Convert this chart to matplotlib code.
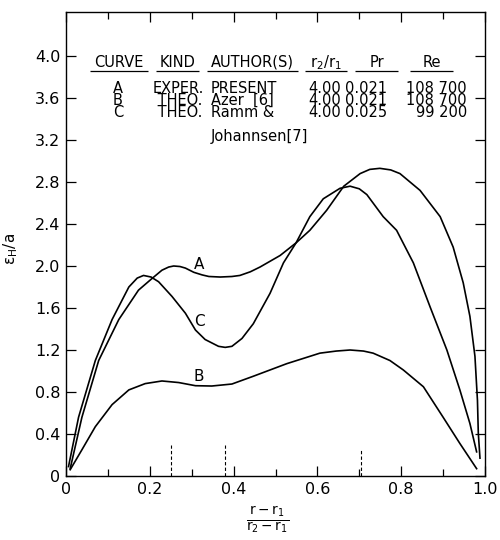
import matplotlib
matplotlib.use("Agg")
import matplotlib.pyplot as plt
from matplotlib.ticker import MultipleLocator

plt.rcParams["font.family"] = ["DejaVu Sans"]
plt.rcParams["mathtext.default"] = "regular"

# ---- curve data ----
a_x = [0.010, 0.038, 0.078, 0.126, 0.173, 0.205, 0.229, 0.245, 0.257, 0.272,
       0.285, 0.305, 0.325, 0.341, 0.368, 0.396, 0.415, 0.440, 0.463, 0.511,
       0.549, 0.582, 0.622, 0.654, 0.663, 0.702, 0.725, 0.749, 0.775, 0.797,
       0.845, 0.893, 0.924, 0.948, 0.964, 0.976, 0.982, 0.984, 0.988]
a_y = [0.07, 0.56, 1.10, 1.49, 1.77, 1.88, 1.96, 1.99, 2.00, 1.995,
       1.98, 1.94, 1.915, 1.90, 1.895, 1.90, 1.91, 1.945, 1.99, 2.10,
       2.22, 2.34, 2.53, 2.71, 2.76, 2.88, 2.92, 2.93, 2.915, 2.88,
       2.72, 2.47, 2.18, 1.84, 1.52, 1.14, 0.72, 0.41, 0.17]

b_x = [0.010, 0.038, 0.070, 0.110, 0.150, 0.189, 0.229, 0.269, 0.309, 0.348,
       0.396, 0.447, 0.527, 0.606, 0.645, 0.678, 0.710, 0.733, 0.773, 0.805,
       0.853, 0.900, 0.940, 0.980]
b_y = [0.06, 0.25, 0.47, 0.68, 0.82, 0.88, 0.905, 0.89, 0.86, 0.857,
       0.876, 0.95, 1.07, 1.17, 1.19, 1.20, 1.19, 1.17, 1.10, 1.01,
       0.85, 0.56, 0.31, 0.07]

c_x = [0.006, 0.030, 0.070, 0.110, 0.150, 0.170, 0.185, 0.203, 0.221, 0.253,
       0.285, 0.309, 0.332, 0.364, 0.380, 0.396, 0.420, 0.447, 0.487, 0.519,
       0.549, 0.582, 0.614, 0.654, 0.678, 0.700, 0.718, 0.757, 0.789, 0.829,
       0.869, 0.909, 0.940, 0.964, 0.980]
c_y = [0.09, 0.56, 1.10, 1.49, 1.80, 1.885, 1.91, 1.895, 1.85, 1.71,
       1.55, 1.39, 1.30, 1.235, 1.225, 1.235, 1.31, 1.45, 1.74, 2.03,
       2.22, 2.47, 2.64, 2.74, 2.76, 2.735, 2.68, 2.47, 2.34, 2.03,
       1.61, 1.20, 0.82, 0.50, 0.23]

curve_labels = ["A", "C", "B"]
label_x = [0.318, 0.318, 0.318]
label_y = [2.01, 1.47, 0.95]

mark_x = [0.25, 0.38, 0.705]
mark_h = [0.30, 0.30, 0.25]

x_ticks = [0.0, 0.2, 0.4, 0.6, 0.8, 1.0]
x_ticklabels = ["0", "0.2", "0.4", "0.6", "0.8", "1.0"]
y_ticks = [0.0, 0.4, 0.8, 1.2, 1.6, 2.0, 2.4, 2.8, 3.2, 3.6, 4.0]
y_ticklabels = ["0", "0.4", "0.8", "1.2", "1.6", "2.0", "2.4", "2.8",
                "3.2", "3.6", "4.0"]

# table in the upper part of the plot
tbl_header = ["CURVE", "KIND", "AUTHOR(S)", r"$r_2/r_1$", "Pr", "Re"]
tbl_curve = ["A", "B", "C"]
tbl_kind = ["EXPER.", " THEO.", " THEO."]
tbl_author = ["PRESENT", "Azer  [6]", "Ramm &", "", "Johannsen[7]"]
tbl_ratio = ["4.00", "4.00", "4.00"]
tbl_pr = ["0.021", "0.021", "0.025"]
tbl_re = ["108 700", "108 700", "99 200"]

fig = plt.figure(figsize=(5.0, 5.4), dpi=100)
ax = fig.add_axes([0.132, 0.1185, 0.838, 0.8595])

lw = 1.2
ax.plot(a_x, a_y, color="black", lw=lw)
ax.plot(b_x, b_y, color="black", lw=lw)
ax.plot(c_x, c_y, color="black", lw=lw)
for t, x, y in zip(curve_labels, label_x, label_y):
    ax.text(x, y, t, fontsize=11, ha="center", va="center")

ax.vlines(mark_x, 0, mark_h, colors="black", linestyles=(0, (3, 2)), lw=0.8)

ax.set_xlim(0, 1.0)
ax.set_ylim(0, 4.42)
ax.set_xticks(x_ticks)
ax.set_xticklabels(x_ticklabels)
ax.set_yticks(y_ticks)
ax.set_yticklabels(y_ticklabels)
ax.xaxis.set_minor_locator(MultipleLocator(0.1))
ax.tick_params(axis="both", which="major", direction="in", top=True,
               right=True, length=7, width=0.9, labelsize=11.5, pad=4)
ax.tick_params(axis="x", which="minor", direction="in", top=True,
               length=5, width=0.9)
for s in ax.spines.values():
    s.set_linewidth(1.0)

ax.set_ylabel(r"$\epsilon_H/a$", fontsize=11)
ax.yaxis.set_label_coords(-0.11, 0.49)
ax.set_xlabel(r"$\frac{r-r_1}{r_2-r_1}$", fontsize=14)
ax.xaxis.set_label_coords(0.482, -0.06)

# table: header, underlines, then one text block per column
fs = 10.5
ls = 0.75
hy = 3.94
head_cx = [0.127, 0.266, 0.446, 0.620, 0.742, 0.873]
line_l = [0.057, 0.215, 0.337, 0.570, 0.690, 0.821]
line_r = [0.196, 0.317, 0.554, 0.671, 0.792, 0.924]
for t, cx in zip(tbl_header, head_cx):
    ax.text(cx, hy, t, fontsize=fs, ha="center", va="center")
ax.hlines([3.86] * 6, line_l, line_r, colors="black", lw=0.9)

mid_y = 3.58
ax.text(0.124, mid_y, "\n".join(tbl_curve), fontsize=fs, ha="center",
        va="center", multialignment="center", linespacing=ls)
ax.text(0.207, mid_y, "\n".join(tbl_kind), fontsize=fs, ha="left",
        va="center", linespacing=ls)
ax.text(0.345, 3.46, "\n".join(tbl_author), fontsize=fs, ha="left",
        va="center", linespacing=ls)
ax.text(0.578, mid_y, "\n".join(tbl_ratio), fontsize=fs, ha="left",
        va="center", linespacing=ls)
ax.text(0.666, mid_y, "\n".join(tbl_pr), fontsize=fs, ha="left",
        va="center", linespacing=ls)
ax.text(0.957, mid_y, "\n".join(tbl_re), fontsize=fs, ha="right",
        va="center", multialignment="right", linespacing=ls)

fig.savefig("out.png", dpi=100)
